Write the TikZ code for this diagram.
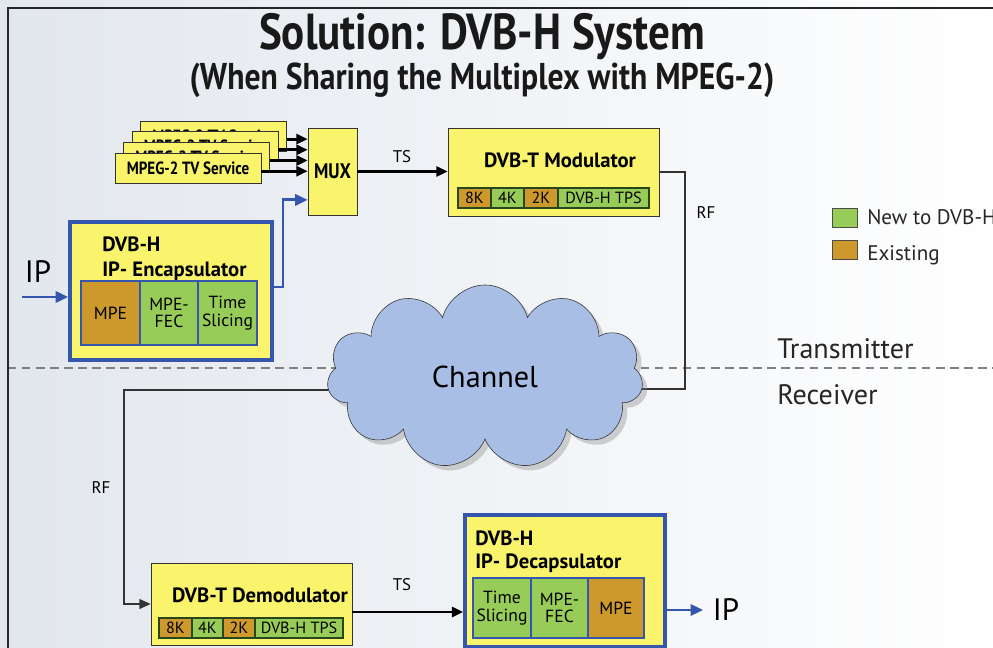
\documentclass[tikz,border=0pt]{standalone}
\usepackage{fontspec}
\setmainfont{PT Sans}
\newfontfamily\narrowfont{PT Sans}[FakeStretch=0.85]
\usepackage{xcolor}
\usepackage{tikz}
\usetikzlibrary{shapes.symbols, shadows}
\usetikzlibrary{arrows.meta}
\usetikzlibrary{positioning}

\definecolor{boxyellow}{RGB}{249,244,108}
\definecolor{newgreen}{RGB}{152,204,88}
\definecolor{oldorange}{RGB}{205,152,44}
\definecolor{dvbblue}{RGB}{52,86,172}
\definecolor{cloudblue}{RGB}{168,190,228}
\definecolor{celledge}{RGB}{40,70,30}
\definecolor{bggray}{RGB}{226,231,237}

\pgfdeclarelayer{back}
\pgfdeclarelayer{wires}
\pgfsetlayers{back,wires,main}

\tikzstyle{titletext} = [font=\narrowfont\bfseries\fontsize{36}{40}\selectfont, text=black!90]
\tikzstyle{subtitletext} = [font=\narrowfont\bfseries\fontsize{26.5}{30}\selectfont, text=black!90]
\tikzstyle{service} = [rectangle, draw=black!80, fill=boxyellow, minimum width=3.65cm, minimum height=0.75cm, font=\narrowfont\bfseries\fontsize{12.6}{14}\selectfont]
\tikzstyle{muxbox} = [rectangle, draw=black!80, fill=boxyellow, minimum width=1.225cm, minimum height=2.175cm, font=\narrowfont\bfseries\fontsize{15}{18}\selectfont]
\tikzstyle{modbox} = [rectangle, draw=black!80, fill=boxyellow]
\tikzstyle{dvbhbox} = [rectangle, draw=dvbblue, line width=2.5pt, fill=boxyellow]
\tikzstyle{boxtitle} = [inner sep=0pt, font=\bfseries\fontsize{14.7}{17}\selectfont]
\tikzstyle{newcell} = [rectangle, fill=newgreen, outer sep=0pt]
\tikzstyle{oldcell} = [rectangle, fill=oldorange, outer sep=0pt]
\tikzstyle{encell} = [draw=dvbblue, line width=0.8pt, minimum height=1.6cm, inner sep=0pt, align=center, font=\fontsize{12.5}{12.5}\selectfont]
\tikzstyle{tpscell} = [draw=celledge, line width=0.8pt, minimum height=0.5cm, inner sep=0pt, font=\fontsize{11.5}{12}\selectfont]
\tikzstyle{wirelabel} = [font=\fontsize{12}{14}\selectfont]
\tikzstyle{sidetext} = [inner sep=0pt, font=\fontsize{20}{22}\selectfont, text=black!85]
\tikzstyle{legendtext} = [inner sep=0pt, font=\fontsize{15}{17}\selectfont, text=black!85]
\tikzstyle{iptext} = [inner sep=1pt, font=\fontsize{22}{24}\selectfont]
\tikzstyle{arrow} = [line width=2pt, -{Triangle[length=8pt, width=7pt]}]
\tikzstyle{bluearrow} = [line width=2pt, dvbblue, -{Triangle[length=9pt, width=8pt]}]
\tikzstyle{wire} = [line width=0.9pt, black!80]

\begin{document}
\begin{tikzpicture}[x=0.025cm, y=-0.025cm]
    \useasboundingbox (0,0) rectangle (993,648);
    \clip (0,0) rectangle (993,648);
    \begin{pgfonlayer}{back}
        \shade [left color=bggray, right color=white] (-5,-5) rectangle (1000,655);
    \end{pgfonlayer}
    \draw [line width=1.2pt, black!85] (8,660) -- (8,8) -- (1000,8);

    \node (title) at (482,37) [titletext] {Solution: DVB-H System};
    \node (subtitle) at (482,80) [subtitletext] {(When Sharing the Multiplex with MPEG-2)};

    % transmitter side
    \foreach \k in {3,2,1,0}
        \node (svc\k) at (188+8.5*\k, 168-10.7*\k) [service] {MPEG-2 TV Service};
    \node (mux) at (332.5,171.5) [muxbox] {MUX};
    \foreach \k in {3,2,1,0}
        \draw [arrow] ([yshift=-0.08cm]svc\k.east) -- ([yshift=-0.08cm]svc\k.east -| mux.west);

    \node (enc) at (171,291) [dvbhbox, minimum width=5.05cm, minimum height=3.45cm] {};
    \node (enctop) at (102,252) [boxtitle, anchor=base west] {DVB-H};
    \node (encname) at (102,277) [boxtitle, anchor=base west] {IP- Encapsulator};
    \node (encmpe) at (110.5,313) [oldcell, encell, minimum width=1.475cm] {MPE};
    \node (encfec) [newcell, encell, right=0pt of encmpe, minimum width=1.45cm] {MPE-\\FEC};
    \node (encts) [newcell, encell, right=0pt of encfec, minimum width=1.475cm] {Time\\Slicing};

    \node (iptx) at (38,272) [iptext] {IP};
    \coordinate (ipin) at (22,297);
    \draw [bluearrow] (ipin) -- (ipin -| enc.west);
    \coordinate (encout) at (283,287);
    \draw [bluearrow] (encout -| enc.east) -- (encout) |- ([yshift=-0.71cm]mux.west);

    \node (mod) at (553.5,172) [modbox, minimum width=5.275cm, minimum height=2.2cm] {};
    \node (modname) at (560,160) [boxtitle] {DVB-T Modulator};
    \node (mod8k) at (474.5,198) [oldcell, tpscell, minimum width=0.825cm] {8K};
    \node (mod4k) [newcell, tpscell, right=0pt of mod8k, minimum width=0.825cm] {4K};
    \node (mod2k) [oldcell, tpscell, right=0pt of mod4k, minimum width=0.85cm] {2K};
    \node (modtps) [newcell, tpscell, right=0pt of mod2k, minimum width=2.275cm] {DVB-H TPS};

    \draw [arrow] (mux.east) -- (mux.east -| mod.west);
    \node (tstx) at (402,157) [wirelabel] {TS};

    % channel
    \node (channel) at (485,377) [cloud, cloud puffs=11, aspect=1.7, draw=black!80, fill=cloudblue,
        drop shadow={opacity=0.35, shadow xshift=0.12cm, shadow yshift=-0.12cm},
        minimum width=7.9cm, minimum height=4.6cm, font=\fontsize{21.5}{23}\selectfont] {Channel};
    \node (rftxlabel) at (706,213) [wirelabel] {RF};
    \node (rfrxlabel) at (101,488) [wirelabel] {RF};

    \node (txlabel) at (777,349) [sidetext, anchor=west] {Transmitter};
    \node (rxlabel) at (777,395) [sidetext, anchor=west] {Receiver};

    % legend
    \node (lgnew) at (845,217.5) [newcell, draw=black!70, minimum width=0.625cm, minimum height=0.475cm] {};
    \node (lgnewtext) at (867,225) [legendtext, anchor=base west] {New to DVB-H};
    \node (lgold) at (845,249.5) [oldcell, draw=black!70, minimum width=0.625cm, minimum height=0.475cm] {};
    \node (lgoldtext) at (867,261) [legendtext, anchor=base west] {Existing};

    % receiver side
    \node (demod) at (251.5,604) [modbox, minimum width=5.025cm, minimum height=2.05cm] {};
    \node (demodname) at (260,595) [boxtitle] {DVB-T Demodulator};
    \node (dem8k) at (175.5,628) [oldcell, tpscell, minimum width=0.825cm] {8K};
    \node (dem4k) [newcell, tpscell, right=0pt of dem8k, minimum width=0.775cm] {4K};
    \node (dem2k) [oldcell, tpscell, right=0pt of dem4k, minimum width=0.8cm] {2K};
    \node (demtps) [newcell, tpscell, right=0pt of dem2k, minimum width=2.2cm] {DVB-H TPS};

    \node (decap) at (565,581) [dvbhbox, minimum width=5cm, minimum height=3.3cm] {};
    \node (decaptop) at (475,545) [boxtitle, anchor=base west] {DVB-H};
    \node (decapname) at (475,568) [boxtitle, anchor=base west] {IP- Decapsulator};
    \node (dects) at (502,608) [newcell, encell, minimum width=1.45cm, minimum height=1.5cm] {Time\\Slicing};
    \node (decfec) [newcell, encell, right=0pt of dects, minimum width=1.425cm, minimum height=1.5cm] {MPE-\\FEC};
    \node (decmpe) [oldcell, encell, right=0pt of decfec, minimum width=1.4cm, minimum height=1.5cm] {MPE};

    \draw [arrow] ([yshift=-0.2cm]demod.east) -- ([yshift=-0.2cm]demod.east -| decap.west);
    \node (tsrx) at (402,585) [wirelabel] {TS};
    \node (iprx) at (726,610) [iptext] {IP};
    \draw [bluearrow, shorten >=0.2cm] (iprx -| decap.east) -- (iprx.west);

    % RF paths, behind the cloud
    \coordinate (rftx) at (685,389);
    \coordinate (rfrx) at (124,390);
    \begin{pgfonlayer}{wires}
        \draw [dashed, gray, line width=0.8pt, dash pattern=on 6pt off 4pt] (8,368) -- (993,368);
        \draw [wire] (mod.east) -| (rftx) -- (rftx -| channel.center);
        \draw [wire, -{Triangle[length=8pt, width=7pt]}] (rfrx -| channel.center) -- (rfrx) |- (demod.west);
    \end{pgfonlayer}
\end{tikzpicture}
\end{document}
